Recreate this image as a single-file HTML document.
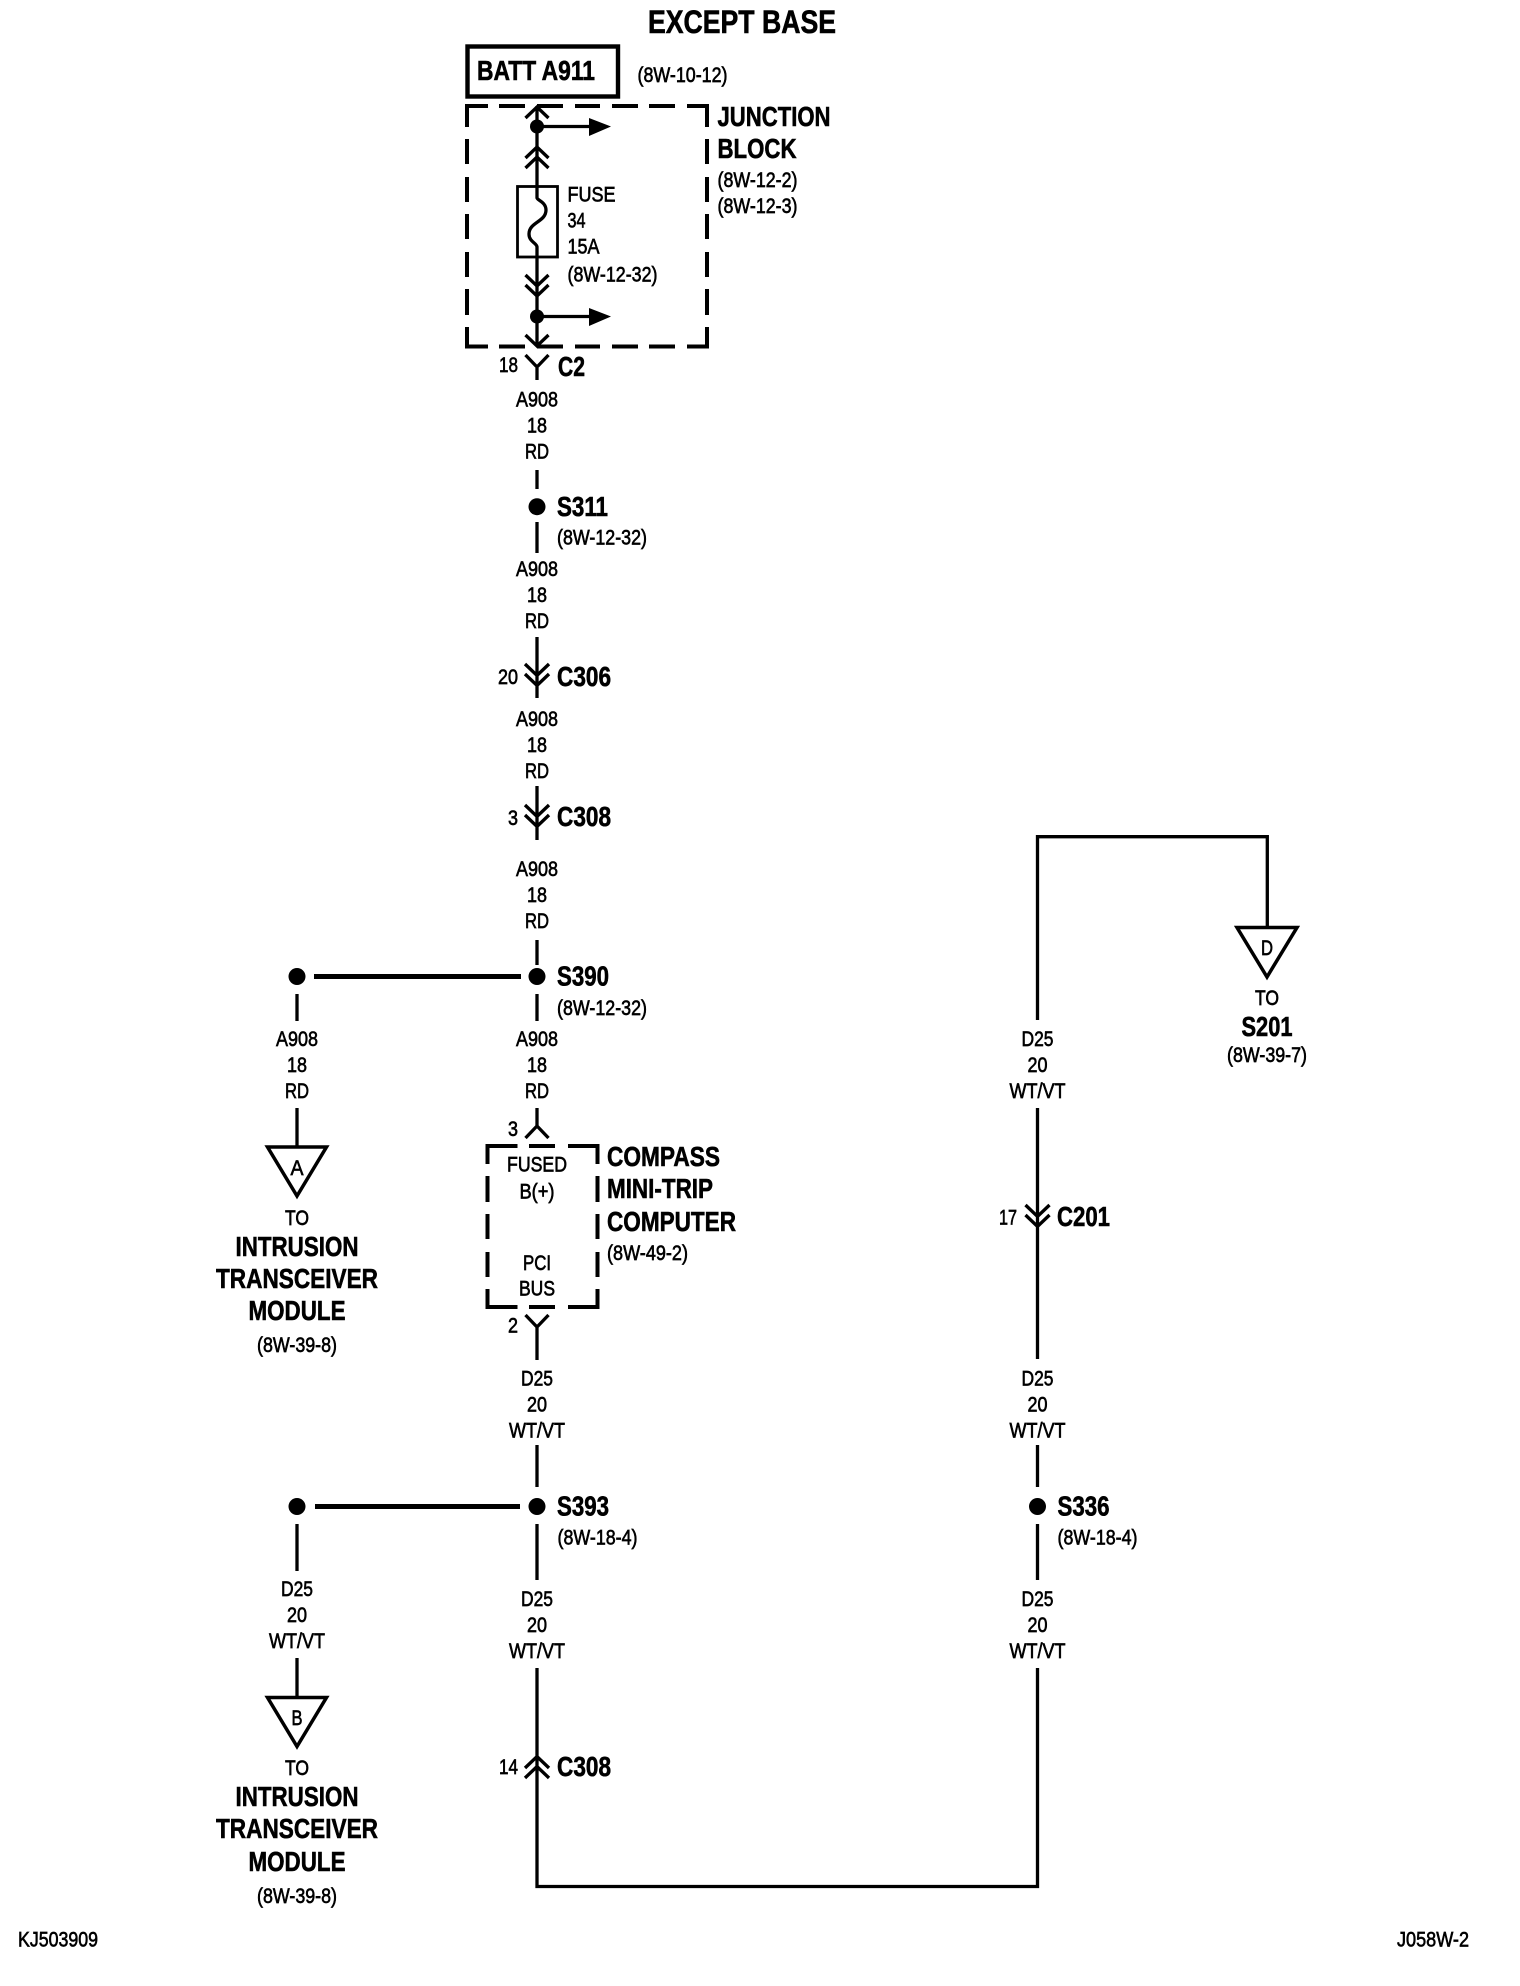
<!DOCTYPE html>
<html lang="en">
<head>
<meta charset="utf-8">
<title>Wiring diagram</title>
<style>
html,body{margin:0;padding:0;background:#fff}
svg{display:block}
text{font-family:"Liberation Sans",Arial,sans-serif;fill:#000}
.r{font-size:21.5px;stroke:#000;stroke-width:.65px}
.b{font-size:28px;font-weight:bold;stroke:#000;stroke-width:.6px;transform:translateY(-1px)}
.m{text-anchor:middle}
.w{fill:none;stroke:#000;stroke-width:3.3}
.d{fill:none;stroke:#000;stroke-width:4}
</style>
</head>
<body>
<svg xmlns="http://www.w3.org/2000/svg" width="1520" height="1986" viewBox="0 0 1520 1986">
<rect width="1520" height="1986" fill="#fff"/>

<!-- Top -->
<text class="b m" x="742" y="34" style="font-size:32px" textLength="188" lengthAdjust="spacingAndGlyphs">EXCEPT BASE</text>
<rect x="467.5" y="46.5" width="150.5" height="50" fill="none" stroke="#000" stroke-width="4.4"/>
<text class="b" x="477" y="81" textLength="118" lengthAdjust="spacingAndGlyphs">BATT A911</text>
<text class="r" x="637.5" y="82" textLength="90" lengthAdjust="spacingAndGlyphs">(8W-10-12)</text>

<!-- Junction block dashed -->
<path class="d" d="M467 127V106H488M499 106H525M537 106H563M575 106H600M612 106H638M649 106H675M687 106H707V127
M467 139V164M467 177V202M467 214V239M467 252V277M467 289V315M707 139V164M707 177V202M707 214V239M707 252V277M707 289V315
M467 327V346.500H488M499 346.500H525M537 346.500H563M575 346.500H600M612 346.500H638M649 346.500H675M687 346.500H707V327"/>

<!-- Junction internals -->
<path class="w" d="M537 106V198C537 200 546 202 546 210C546 222 529 222 529 234C529 242 537 243 537 247V346"/>
<path class="w" d="M525.500 118L537 107L548.500 118M525.500 158L537 147L548.500 158M525.500 168L537 157L548.500 168M525.500 275L537 286L548.500 275M525.500 285L537 296L548.500 285M525.500 335L537 346L548.500 335"/>
<rect x="517.5" y="186.5" width="40" height="70.5" fill="none" stroke="#000" stroke-width="2.8"/>
<circle cx="537" cy="126.5" r="7"/>
<circle cx="537" cy="316.5" r="7"/>
<path class="w" d="M537 126.5H592M537 316.5H592"/>
<path d="M589 118L611 126.5L589 136ZM589 308L611 316.5L589 326Z"/>
<text class="b" x="717.500" y="127" textLength="113" lengthAdjust="spacingAndGlyphs">JUNCTION</text>
<text class="b" x="717.500" y="159" textLength="79" lengthAdjust="spacingAndGlyphs">BLOCK</text>
<text class="r" x="717.500" y="187" textLength="80" lengthAdjust="spacingAndGlyphs">(8W-12-2)</text>
<text class="r" x="717.500" y="213" textLength="80" lengthAdjust="spacingAndGlyphs">(8W-12-3)</text>
<text class="r" x="567.500" y="201.5" textLength="48" lengthAdjust="spacingAndGlyphs">FUSE</text>
<text class="r" x="567.500" y="227.5" textLength="18" lengthAdjust="spacingAndGlyphs">34</text>
<text class="r" x="567.500" y="253.5" textLength="32" lengthAdjust="spacingAndGlyphs">15A</text>
<text class="r" x="567.500" y="281.5" textLength="90" lengthAdjust="spacingAndGlyphs">(8W-12-32)</text>

<!-- Main column wires -->
<path class="w" d="M525.500 355L537 367L548.500 355M537 367V380
M537 470V489M537 522V553M537 637V698M537 786V840M537 940V965M537 994V1021
M537 1108V1126M525.500 1138L537 1126L548.500 1138
M525.500 1315L537 1327L548.500 1315M537 1327V1360
M537 1445V1487M537 1524V1580M537 1668V1886.5H1037.5V1668
M525 664L537 675.500L549 664M525 674L537 685.500L549 674
M525 805L537 816.500L549 805M525 815L537 826.500L549 815
M525 1768L537 1756.500L549 1768M525 1778L537 1766.500L549 1778"/>

<text class="r" x="499" y="372" textLength="19" lengthAdjust="spacingAndGlyphs">18</text>
<text class="b" x="558" y="377" textLength="27" lengthAdjust="spacingAndGlyphs">C2</text>

<text class="r m" x="537" y="406.5" textLength="42" lengthAdjust="spacingAndGlyphs">A908</text>
<text class="r m" x="537" y="432.5" textLength="20" lengthAdjust="spacingAndGlyphs">18</text>
<text class="r m" x="537" y="458.5" textLength="24" lengthAdjust="spacingAndGlyphs">RD</text>

<circle cx="537" cy="506.7" r="8.5"/>
<text class="b" x="557" y="517" textLength="51" lengthAdjust="spacingAndGlyphs">S311</text>
<text class="r" x="557" y="544.5" textLength="90" lengthAdjust="spacingAndGlyphs">(8W-12-32)</text>

<text class="r m" x="537" y="576" textLength="42" lengthAdjust="spacingAndGlyphs">A908</text>
<text class="r m" x="537" y="602" textLength="20" lengthAdjust="spacingAndGlyphs">18</text>
<text class="r m" x="537" y="628" textLength="24" lengthAdjust="spacingAndGlyphs">RD</text>

<text class="r" x="498" y="684" textLength="20" lengthAdjust="spacingAndGlyphs">20</text>
<text class="b" x="557" y="687" textLength="54" lengthAdjust="spacingAndGlyphs">C306</text>

<text class="r m" x="537" y="726" textLength="42" lengthAdjust="spacingAndGlyphs">A908</text>
<text class="r m" x="537" y="752" textLength="20" lengthAdjust="spacingAndGlyphs">18</text>
<text class="r m" x="537" y="778" textLength="24" lengthAdjust="spacingAndGlyphs">RD</text>

<text class="r" x="508" y="825" textLength="10" lengthAdjust="spacingAndGlyphs">3</text>
<text class="b" x="557" y="827" textLength="54" lengthAdjust="spacingAndGlyphs">C308</text>

<text class="r m" x="537" y="876" textLength="42" lengthAdjust="spacingAndGlyphs">A908</text>
<text class="r m" x="537" y="902" textLength="20" lengthAdjust="spacingAndGlyphs">18</text>
<text class="r m" x="537" y="928" textLength="24" lengthAdjust="spacingAndGlyphs">RD</text>

<!-- S390 -->
<circle cx="537" cy="976.5" r="8.5"/>
<circle cx="297" cy="976.5" r="8.5"/>
<path d="M314 976.5H521" stroke="#000" stroke-width="5" fill="none"/>
<text class="b" x="557" y="986.5" textLength="52" lengthAdjust="spacingAndGlyphs">S390</text>
<text class="r" x="557" y="1015" textLength="90" lengthAdjust="spacingAndGlyphs">(8W-12-32)</text>

<text class="r m" x="537" y="1046" textLength="42" lengthAdjust="spacingAndGlyphs">A908</text>
<text class="r m" x="537" y="1072" textLength="20" lengthAdjust="spacingAndGlyphs">18</text>
<text class="r m" x="537" y="1098" textLength="24" lengthAdjust="spacingAndGlyphs">RD</text>

<!-- Left A -->
<path class="w" d="M297 994V1021M297 1108V1146"/>
<text class="r m" x="297" y="1046" textLength="42" lengthAdjust="spacingAndGlyphs">A908</text>
<text class="r m" x="297" y="1072" textLength="20" lengthAdjust="spacingAndGlyphs">18</text>
<text class="r m" x="297" y="1098" textLength="24" lengthAdjust="spacingAndGlyphs">RD</text>
<path d="M267.500 1147H326.500L297 1196Z" fill="none" stroke="#000" stroke-width="3.5"/>
<text class="r m" x="297" y="1175" textLength="13" lengthAdjust="spacingAndGlyphs">A</text>
<text class="r m" x="297" y="1225" textLength="24" lengthAdjust="spacingAndGlyphs">TO</text>
<text class="b m" x="297" y="1257" textLength="123" lengthAdjust="spacingAndGlyphs">INTRUSION</text>
<text class="b m" x="297" y="1289" textLength="162" lengthAdjust="spacingAndGlyphs">TRANSCEIVER</text>
<text class="b m" x="297" y="1321" textLength="97" lengthAdjust="spacingAndGlyphs">MODULE</text>
<text class="r m" x="297" y="1352" textLength="80" lengthAdjust="spacingAndGlyphs">(8W-39-8)</text>

<!-- Compass dashed box -->
<path class="d" d="M487.500 1164V1146H517.500M529 1146H555M568 1146H597.500V1164
M487.500 1176V1202M487.500 1214V1239M487.500 1252V1277M597.500 1176V1202M597.500 1214V1239M597.500 1252V1277
M487.500 1289V1307H517.500M529 1307H555M568 1307H597.500V1289"/>
<text class="r" x="508" y="1136" textLength="10" lengthAdjust="spacingAndGlyphs">3</text>
<text class="r" x="508" y="1332.5" textLength="10" lengthAdjust="spacingAndGlyphs">2</text>
<text class="r m" x="537" y="1171.5" textLength="60" lengthAdjust="spacingAndGlyphs">FUSED</text>
<text class="r m" x="537" y="1198.5" textLength="35" lengthAdjust="spacingAndGlyphs">B(+)</text>
<text class="r m" x="537" y="1270" textLength="28" lengthAdjust="spacingAndGlyphs">PCI</text>
<text class="r m" x="537" y="1295.5" textLength="36" lengthAdjust="spacingAndGlyphs">BUS</text>
<text class="b" x="607" y="1167" textLength="113" lengthAdjust="spacingAndGlyphs">COMPASS</text>
<text class="b" x="607" y="1199" textLength="106" lengthAdjust="spacingAndGlyphs">MINI-TRIP</text>
<text class="b" x="607" y="1232" textLength="129" lengthAdjust="spacingAndGlyphs">COMPUTER</text>
<text class="r" x="607" y="1260" textLength="81" lengthAdjust="spacingAndGlyphs">(8W-49-2)</text>

<text class="r m" x="537" y="1385.5" textLength="32" lengthAdjust="spacingAndGlyphs">D25</text>
<text class="r m" x="537" y="1411.5" textLength="20" lengthAdjust="spacingAndGlyphs">20</text>
<text class="r m" x="537" y="1437.5" textLength="56" lengthAdjust="spacingAndGlyphs">WT/VT</text>

<!-- S393 -->
<circle cx="537" cy="1506.5" r="8.5"/>
<circle cx="297" cy="1506.5" r="8.5"/>
<path d="M315 1506.5H520" stroke="#000" stroke-width="5" fill="none"/>
<text class="b" x="557" y="1516.5" textLength="52" lengthAdjust="spacingAndGlyphs">S393</text>
<text class="r" x="557.500" y="1544.5" textLength="80" lengthAdjust="spacingAndGlyphs">(8W-18-4)</text>

<text class="r m" x="537" y="1606" textLength="32" lengthAdjust="spacingAndGlyphs">D25</text>
<text class="r m" x="537" y="1632" textLength="20" lengthAdjust="spacingAndGlyphs">20</text>
<text class="r m" x="537" y="1658" textLength="56" lengthAdjust="spacingAndGlyphs">WT/VT</text>

<text class="r" x="499" y="1774" textLength="19" lengthAdjust="spacingAndGlyphs">14</text>
<text class="b" x="557" y="1777" textLength="54" lengthAdjust="spacingAndGlyphs">C308</text>

<!-- Left B -->
<path class="w" d="M297 1524V1571M297 1658V1697"/>
<text class="r m" x="297" y="1596" textLength="32" lengthAdjust="spacingAndGlyphs">D25</text>
<text class="r m" x="297" y="1622" textLength="20" lengthAdjust="spacingAndGlyphs">20</text>
<text class="r m" x="297" y="1648" textLength="56" lengthAdjust="spacingAndGlyphs">WT/VT</text>
<path d="M267.500 1697.500H326.500L297 1746.500Z" fill="none" stroke="#000" stroke-width="3.5"/>
<text class="r m" x="297" y="1725" textLength="11" lengthAdjust="spacingAndGlyphs">B</text>
<text class="r m" x="297" y="1775" textLength="24" lengthAdjust="spacingAndGlyphs">TO</text>
<text class="b m" x="297" y="1807" textLength="123" lengthAdjust="spacingAndGlyphs">INTRUSION</text>
<text class="b m" x="297" y="1839" textLength="162" lengthAdjust="spacingAndGlyphs">TRANSCEIVER</text>
<text class="b m" x="297" y="1872" textLength="97" lengthAdjust="spacingAndGlyphs">MODULE</text>
<text class="r m" x="297" y="1903" textLength="80" lengthAdjust="spacingAndGlyphs">(8W-39-8)</text>

<!-- Right column -->
<path class="w" d="M1037.5 1020V836.7H1267.3V926M1037.5 1108V1359M1037.5 1445V1487M1037.5 1524V1580
M1025.500 1205L1037.5 1216.500L1049.500 1205M1025.500 1215L1037.5 1226.500L1049.500 1215"/>
<path d="M1237 927.5H1297L1267 977Z" fill="none" stroke="#000" stroke-width="3.5"/>
<text class="r m" x="1267" y="955" textLength="12" lengthAdjust="spacingAndGlyphs">D</text>
<text class="r m" x="1267" y="1005" textLength="24" lengthAdjust="spacingAndGlyphs">TO</text>
<text class="b m" x="1267" y="1037" textLength="51" lengthAdjust="spacingAndGlyphs">S201</text>
<text class="r m" x="1267" y="1062" textLength="80" lengthAdjust="spacingAndGlyphs">(8W-39-7)</text>

<text class="r m" x="1037.5" y="1046" textLength="32" lengthAdjust="spacingAndGlyphs">D25</text>
<text class="r m" x="1037.5" y="1072" textLength="20" lengthAdjust="spacingAndGlyphs">20</text>
<text class="r m" x="1037.5" y="1098" textLength="56" lengthAdjust="spacingAndGlyphs">WT/VT</text>
<text class="r" x="999" y="1224.5" textLength="18" lengthAdjust="spacingAndGlyphs">17</text>
<text class="b" x="1057" y="1227" textLength="53" lengthAdjust="spacingAndGlyphs">C201</text>
<text class="r m" x="1037.5" y="1385.5" textLength="32" lengthAdjust="spacingAndGlyphs">D25</text>
<text class="r m" x="1037.5" y="1411.5" textLength="20" lengthAdjust="spacingAndGlyphs">20</text>
<text class="r m" x="1037.5" y="1437.5" textLength="56" lengthAdjust="spacingAndGlyphs">WT/VT</text>
<circle cx="1037.5" cy="1506.5" r="8.5"/>
<text class="b" x="1057.500" y="1516.5" textLength="52" lengthAdjust="spacingAndGlyphs">S336</text>
<text class="r" x="1057.500" y="1544.5" textLength="80" lengthAdjust="spacingAndGlyphs">(8W-18-4)</text>
<text class="r m" x="1037.5" y="1606" textLength="32" lengthAdjust="spacingAndGlyphs">D25</text>
<text class="r m" x="1037.5" y="1632" textLength="20" lengthAdjust="spacingAndGlyphs">20</text>
<text class="r m" x="1037.5" y="1658" textLength="56" lengthAdjust="spacingAndGlyphs">WT/VT</text>

<!-- Footer -->
<text class="r" x="18" y="1946.5" textLength="80" lengthAdjust="spacingAndGlyphs">KJ503909</text>
<text class="r" x="1397" y="1946.5" textLength="72" lengthAdjust="spacingAndGlyphs">J058W-2</text>
</svg>
</body>
</html>
